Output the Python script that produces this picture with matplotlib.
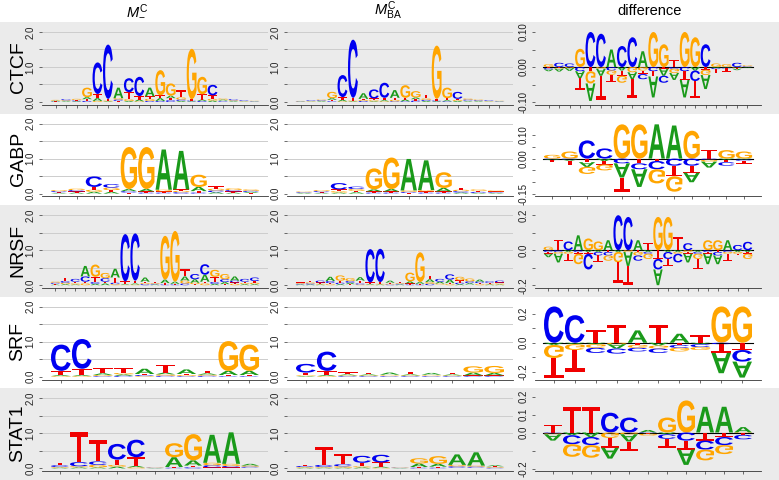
import matplotlib
matplotlib.use('Agg')
import matplotlib.pyplot as plt
import matplotlib.transforms as mtransforms
from matplotlib.textpath import TextPath
from matplotlib.patches import PathPatch, Rectangle
from matplotlib.font_manager import FontProperties

plt.rcParams['font.family'] = ['Liberation Sans', 'DejaVu Sans']
plt.rcParams['mathtext.fontset'] = 'custom'
plt.rcParams['mathtext.rm'] = 'Liberation Sans'
plt.rcParams['mathtext.it'] = 'Liberation Sans:italic'

# letter heights per position: bits for the two model columns,
# signed differences for the third column
ctcf_minus = dict(
    A=[.02, .02, .02, .06, .08, .02, .30, .03, .05, .25, .08, .07, .03, .02, .04, .04, .03, .02, .01, .01],
    C=[.01, .03, .02, .03, .90, 1.55, .04, .40, .55, .03, .03, .05, .04, .02, .03, .30, .02, .03, .02, .01],
    G=[.02, .02, .03, .27, .03, .02, .04, .05, .02, .06, .72, .35, .06, 1.44, .50, .05, .03, .02, .01, .01],
    T=[.01, .01, .02, .05, .12, .05, .03, .20, .10, .07, .08, .06, .20, .04, .15, .10, .02, .01, .01, .005])
ctcf_ba = dict(
    A=[.01, .01, .02, .05, .04, .02, .16, .02, .03, .22, .05, .05, .03, .02, .03, .03, .02, .02, .01, .01],
    C=[.01, .02, .02, .02, .63, 1.66, .03, .26, .43, .02, .02, .04, .03, .02, .02, .20, .03, .02, .02, .01],
    G=[.01, .01, .02, .18, .02, .02, .03, .03, .02, .04, .36, .18, .04, 1.52, .30, .03, .03, .02, .01, .01],
    T=[.01, .01, .01, .04, .08, .08, .03, .05, .07, .06, .05, .04, .11, .05, .06, .03, .02, .01, .01, .005])
ctcf_diff = dict(
    A=[-.005, -.008, -.008, -.02, -.05, -.02, .05, -.01, -.02, .045, -.06, -.02, -.02, -.05, -.01, -.04, -.003, -.002, -.004, -.002],
    C=[-.004, .012, .010, -.012, .10, .095, -.01, .06, .085, -.015, -.012, -.02, -.005, -.012, -.03, .065, -.003, -.002, .012, .002],
    G=[.008, -.003, -.003, .052, -.035, -.005, -.012, -.02, -.015, -.01, .10, .065, -.012, .10, .085, -.015, .01, .008, -.002, .003],
    T=[-.003, -.002, 0, -.035, -.012, -.07, -.02, -.015, -.055, -.01, -.015, -.005, .02, -.025, -.05, -.008, -.012, -.01, -.003, -.002])

gabp_minus = dict(
    A=[.02, .03, .05, .05, .06, .07, 1.15, 1.10, .12, .04, .03, .03],
    C=[.03, .04, .30, .10, .04, .03, .03, .04, .03, .05, .04, .03],
    G=[.03, .04, .06, .07, 1.20, 1.20, .05, .04, .35, .05, .05, .04],
    T=[.02, .03, .08, .05, .03, .03, .03, .04, .04, .07, .03, .02])
gabp_ba = dict(
    A=[.02, .02, .03, .04, .06, .07, .90, .85, .10, .03, .02, .02],
    C=[.02, .03, .18, .07, .03, .03, .03, .03, .03, .04, .03, .02],
    G=[.02, .03, .04, .05, .60, .90, .04, .04, .45, .04, .04, .03],
    T=[.02, .02, .05, .04, .03, .03, .02, .03, .03, .05, .03, .02])
gabp_diff = dict(
    A=[-.004, -.005, -.02, -.01, -.06, -.075, .145, .14, -.04, -.025, -.005, -.004],
    C=[-.003, -.004, .077, .043, -.02, -.025, -.035, -.03, -.03, -.005, -.015, -.005],
    G=[.016, .03, -.03, -.025, .145, .145, -.06, -.065, .118, -.008, .036, .03],
    T=[-.008, -.02, -.015, -.015, -.06, -.02, -.01, -.045, -.03, .036, -.01, -.012])

nrsf_minus = dict(
    A=[.02, .03, .02, .30, .04, .05, .25, .02, .03, .12, .02, .10, .06, .12, .10, .20, .04, .06, .12, .03, .03],
    C=[.03, .05, .08, .15, .05, .10, .04, 1.35, 1.35, .03, .02, .02, .02, .05, .15, .30, .05, .08, .05, .08, .10],
    G=[.03, .04, .03, .05, .35, .15, .03, .01, .02, .03, .02, 1.25, 1.45, .08, .04, .05, .20, .15, .04, .03, .04],
    T=[.02, .10, .05, .05, .15, .05, .15, .08, .08, .04, .04, .04, .02, .20, .03, .05, .15, .03, .04, .04, .05])
nrsf_ba = dict(
    A=[.02, .02, .02, .12, .03, .04, .10, .02, .02, .06, .02, .06, .05, .08, .05, .10, .03, .04, .06, .02, .02],
    C=[.02, .03, .05, .06, .04, .05, .03, .95, .95, .02, .02, .02, .02, .04, .08, .15, .04, .05, .04, .04, .05],
    G=[.02, .03, .02, .03, .15, .08, .02, .01, .02, .02, .02, .25, .85, .05, .03, .03, .10, .08, .03, .02, .03],
    T=[.02, .05, .04, .03, .06, .03, .08, .05, .05, .03, .03, .03, .02, .10, .02, .03, .07, .02, .03, .03, .03])
nrsf_diff = dict(
    A=[-.02, -.05, -.01, .085, -.01, -.01, .057, -.01, -.08, .057, -.01, -.09, -.01, -.01, -.05, -.01, -.06, -.05, .057, -.01, -.01],
    C=[-.01, -.01, .05, -.01, -.09, -.02, -.02, .20, .19, -.03, -.01, -.06, -.04, -.05, .04, -.01, -.01, -.02, -.01, .03, .048],
    G=[.02, -.01, -.01, -.06, .067, .05, -.03, -.06, -.01, -.02, -.03, .19, .19, -.01, -.01, -.03, .057, .057, -.01, -.01, -.03],
    T=[-.01, .06, -.04, -.01, -.01, -.04, -.01, -.12, -.11, -.01, .04, -.05, -.04, .076, -.01, -.06, -.01, -.01, -.04, -.01, -.01])

srf_minus = dict(
    A=[.03, .03, .05, .04, .15, .05, .13, .04, .12, .12],
    C=[.75, .85, .02, .03, .03, .03, .02, .03, .02, .02],
    G=[.02, .02, .03, .04, .02, .04, .03, .03, .85, .75],
    T=[.12, .18, .15, .15, .03, .22, .03, .07, .03, .03])
srf_ba = dict(
    A=[.02, .03, .03, .03, .06, .03, .05, .03, .08, .07],
    C=[.25, .55, .02, .02, .02, .02, .02, .02, .02, .02],
    G=[.02, .02, .02, .02, .02, .02, .02, .02, .18, .20],
    T=[.08, .12, .06, .05, .02, .08, .02, .03, .02, .02])
srf_diff = dict(
    A=[-.015, -.01, -.01, -.03, .085, -.02, .062, -.01, -.14, -.11],
    C=[.25, .19, -.035, -.035, -.025, -.03, -.02, -.02, -.01, -.08],
    G=[-.09, -.04, -.025, -.01, -.02, -.02, -.025, -.02, .25, .25],
    T=[-.14, -.15, .085, .12, -.015, .12, -.015, .05, -.06, -.05])

stat1_minus = dict(
    A=[.02, .03, .03, .05, .04, .01, .28, .15, .80, .90, .05],
    C=[.05, .12, .10, .45, .50, .01, .02, .03, .06, .04, .03],
    G=[.02, .03, .07, .05, .03, .01, .40, .75, .07, .06, .03],
    T=[.06, .85, .60, .15, .25, .01, .02, .05, .03, .03, .02])
stat1_ba = dict(
    A=[.02, .02, .02, .03, .03, .01, .10, .08, .30, .38, .03],
    C=[.03, .06, .06, .20, .22, .01, .02, .02, .04, .03, .02],
    G=[.02, .02, .04, .03, .02, .01, .15, .22, .04, .03, .02],
    T=[.04, .50, .28, .10, .12, .01, .02, .03, .02, .02, .02])
stat1_diff = dict(
    A=[-.035, -.015, -.025, -.06, -.04, .014, -.01, -.085, .143, .143, .03],
    C=[-.005, -.05, -.045, .11, .083, -.003, -.025, -.045, -.05, -.045, -.025],
    G=[-.005, -.07, -.07, -.03, -.01, -.01, .083, .178, -.06, -.05, -.003],
    T=[.04, .14, .14, -.055, -.05, -.004, -.05, -.05, -.045, -.025, -.01])

tf_names = ['CTCF', 'GABP', 'NRSF', 'SRF', 'STAT1']
col_titles = [r'$M^{\mathrm{C}}_{-}$', r'$M^{\mathrm{C}}_{\mathrm{BA}}$', 'difference']
logo_ticks = [0.0, 0.5, 1.0, 1.5, 2.0]
logo_labels = ['0.0', '', '1.0', '', '2.0']
diff_ticks = [
    ([-0.10, -0.05, 0.0, 0.05, 0.10], ['-0.10', '', '0.00', '', '0.10']),
    ([-0.15, -0.10, -0.05, 0.0, 0.05, 0.10], ['-0.15', '', '', '0.00', '', '0.10']),
    ([-0.2, -0.1, 0.0, 0.1, 0.2], ['-0.2', '', '0.0', '', '0.2']),
    ([-0.2, -0.1, 0.0, 0.1, 0.2], ['-0.2', '', '0.0', '', '0.2']),
    ([-0.2, -0.1, 0.0, 0.1, 0.2], ['-0.2', '', '0.0', '0.1', '0.2']),
]
diff_ylims = [(-0.108, 0.108), (-0.16, 0.16), (-0.216, 0.216), (-0.254, 0.267), (-0.215, 0.205)]

panels = [
    (ctcf_minus, ctcf_ba, ctcf_diff),
    (gabp_minus, gabp_ba, gabp_diff),
    (nrsf_minus, nrsf_ba, nrsf_diff),
    (srf_minus, srf_ba, srf_diff),
    (stat1_minus, stat1_ba, stat1_diff),
]

BASE_COLORS = {'A': '#1a9a1a', 'C': '#0000f0', 'G': '#ffa500', 'T': '#f00000'}
FP = FontProperties(family='Liberation Sans', weight='bold')
PATHS = {b: TextPath((0, 0), b, size=1, prop=FP) for b in 'ACGT'}

W, H = 779, 480
ROW_TOP, ROW_H = 22, 91.6
COLS = [(42, 268), (287, 513), (535, 761)]


def letter(ax, base, x, y, h, flip=False):
    """draw one scaled letter with its bottom (or top if flipped) at y"""
    path = PATHS[base]
    ext = path.get_extents()
    t = mtransforms.Affine2D().translate(-ext.x0, -ext.y0)
    t.scale(0.94 / ext.width, (-h if flip else h) / ext.height)
    t.translate(x - 0.47, y)
    ax.add_patch(PathPatch(t.transform_path(path), fc=BASE_COLORS[base], ec='none', lw=0))


def draw_logo(ax, heights):
    n = len(heights['A'])
    for i in range(n):
        y = 0
        for h, b in sorted((heights[b][i], b) for b in 'ACGT'):
            letter(ax, b, i + 1, y, h)
            y += h


def draw_diff(ax, diffs):
    n = len(diffs['A'])
    ax.plot([0.5, n + 0.5], [0, 0], color='black', lw=0.8, zorder=1)
    for i in range(n):
        vals = [(diffs[b][i], b) for b in 'ACGT']
        y = 0
        for h, b in sorted((v, b) for v, b in vals if v > 0):
            letter(ax, b, i + 1, y, h)
            y += h
        y = 0
        for h, b in sorted((-v, b) for v, b in vals if v < 0):
            letter(ax, b, i + 1, y, h, flip=True)
            y -= h


def px_axes(fig, x0, y0, x1, y1):
    return fig.add_axes([x0 / W, 1 - y1 / H, (x1 - x0) / W, (y1 - y0) / H])


def style_axes(ax, n, ylim, ticks, labels, grid):
    ax.set_xlim(0.5 - 0.04 * n, n + 0.5 + 0.04 * n)
    ax.set_ylim(*ylim)
    ax.patch.set_visible(False)
    for s in ('top', 'right', 'left'):
        ax.spines[s].set_visible(False)
    ax.spines['bottom'].set_linewidth(0.6)
    ax.spines['bottom'].set_color('#333333')
    ax.set_xticks(range(1, n + 1))
    ax.set_xticklabels([])
    ax.set_yticks(ticks)
    ax.set_yticklabels(labels, rotation=90, va='center', fontsize=7, color='#222222')
    ax.tick_params(direction='out', length=2.5, width=0.5, pad=2, colors='#333333')
    ax.tick_params(axis='y', labelcolor='#222222')
    if grid:
        for t in ticks[1:]:
            ax.axhline(t, color='#cdcdcd', lw=0.7, zorder=0)


fig = plt.figure(figsize=(W / 100, H / 100), dpi=100)

for r in range(5):
    top = ROW_TOP + ROW_H * r
    if r % 2 == 0:
        fig.add_artist(Rectangle((0, 1 - (top + ROW_H) / H), 1, ROW_H / H,
                                 transform=fig.transFigure, fc='#ebebeb', ec='none', zorder=-10))
    fig.text(18 / W, 1 - (top + 45) / H, tf_names[r], rotation=90,
             ha='center', va='center', fontsize=14)
    for c in range(3):
        x0, x1 = COLS[c]
        ax = px_axes(fig, x0, top + 7.2, x1, top + 82.8)
        data = panels[r][c]
        n = len(data['A'])
        if c < 2:
            style_axes(ax, n, (-0.08, 2.08), logo_ticks, logo_labels, True)
            draw_logo(ax, data)
        else:
            ticks, labels = diff_ticks[r]
            style_axes(ax, n, diff_ylims[r], ticks, labels, False)
            draw_diff(ax, data)

title_x = [137, 388, 650]
for c in range(3):
    fig.text(title_x[c] / W, 1 - 11 / H, col_titles[c], ha='center', va='center', fontsize=10.5)

fig.savefig('out.png', dpi=100)
